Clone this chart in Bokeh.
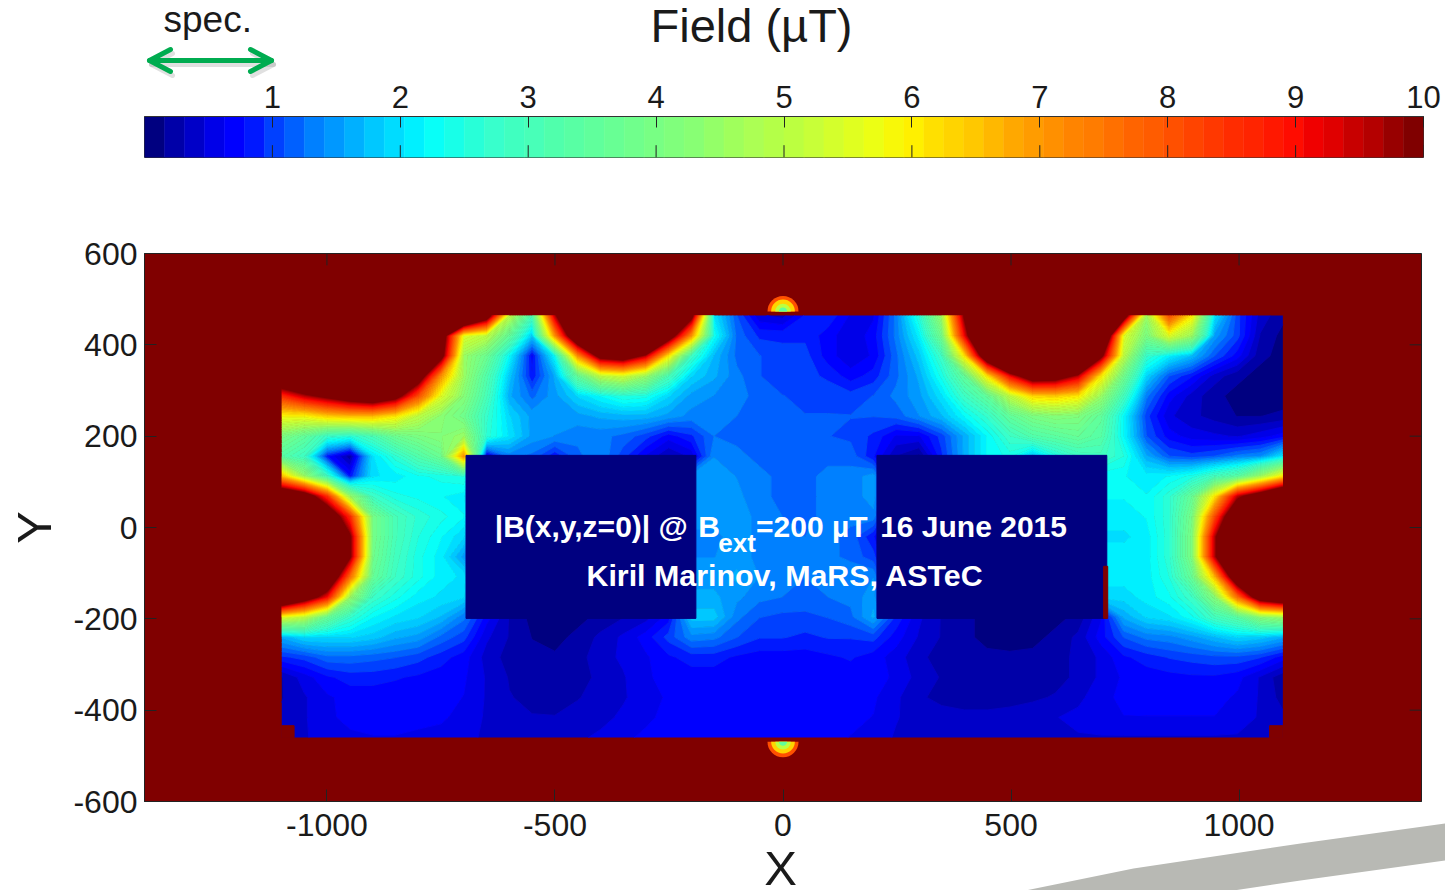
import numpy as np
from bokeh.core.properties import value
from bokeh.embed import file_html
from bokeh.layouts import column
from bokeh.models import FixedTicker
from bokeh.plotting import figure
from bokeh.resources import INLINE

FONT = "Liberation Sans"
INK = "#1a1a1a"

palette = ["#000080","#0000a8","#0000c8","#0000e8","#0000ff","#0018ff","#0040ff","#0060ff",
           "#0080ff","#0098ff","#00b0ff","#00c8ff","#00dcff","#00f0ff","#08fff8","#18ffe8",
           "#28ffd8","#38ffcc","#40ffc0","#48ffb8","#50ffac","#58ffa4","#60ff9c","#68ff94",
           "#70ff8c","#78ff84","#80ff7c","#88ff74","#94ff68","#a0ff5c","#acff54","#b4ff48",
           "#bcff40","#c8ff38","#d4ff2c","#e0ff20","#ecff14","#f8f808","#fff000","#ffe000",
           "#ffd400","#ffc800","#ffb800","#ffa800","#ff9c00","#ff9000","#ff8400","#ff7c00",
           "#ff7000","#ff6400","#ff5c00","#ff5000","#ff4400","#ff3800","#ff2c00","#ff2400",
           "#ff1800","#ff0c00","#f00000","#e00000","#c80000","#b40000","#980000","#800000"]
cbar_ticks = [1, 2, 3, 4, 5, 6, 7, 8, 9, 10]
x_ticks = [-1000, -500, 0, 500, 1000]
x_tick_labels = ["-1000", "-500", "0", "500", "1000"]
y_ticks = [-600, -400, -200, 0, 200, 400, 600]
y_tick_labels = ["-600", "-400", "-200", "0", "200", "400", "600"]

field_x0, field_x1, field_nx = -1099, 1096, 45
field_y_top, field_y_bottom = 464, -460
# |B| in microtesla, row by row from the top edge to the bottom edge
r00 = [12,14,16,16,16,16,16,15,14,11,5,3,9.5,14,16,16,16,14,10.5,2,1.1,.5,.4,.8,.9,.6,.6,1.3,2.5,4.5,10,14,16,16,16,15,13,11,4.5,8,6,2,1,.4,.2]
r01 = [16,16,16,16,16,16,16,11,5.5,5,3.5,1.8,7,12,16,16,16,11,7,2.3,1.2,.9,.9,.9,.7,.5,.7,1.3,2.1,3.8,9,14,16,16,16,16,13,5.5,4,5.5,4.5,1.5,1,.3,.1]
r02 = [16,16,16,16,16,16,12,10.5,4.5,3.7,2.2,.7,2.2,7,10.5,11,9.5,6,2.8,1.7,1.2,1.1,1,1,.7,.5,.65,1.2,1.8,2.8,6,11.5,15,16,16,15,10.3,5,2.7,2.1,1.7,1.1,.7,.2,.1]
r03 = [12,13,14,14,14,14,11,7,4.5,3.2,1.8,.8,1.6,3.5,5,5.3,4.5,3,1.9,1.6,1.3,1.1,1,1,.9,.7,.85,1.2,1.6,2.4,3.5,6,9,11,10.8,9.5,6,3.8,1.9,1.1,.8,.4,.2,.1,.1]
r04 = [8.5,9.5,10.2,11,11.5,10.5,8,5.5,4.2,3,1.6,1.2,1.5,1.9,2.2,2.5,2.4,1.9,1.5,1.4,1.3,1.2,1.1,1.05,1.05,1,1.1,1.3,1.5,2,2.8,3.5,5,6.2,6.3,6,4.5,2.9,1.3,.7,.4,.2,.1,.05,.05]
r05 = [5.8,5.8,6.3,6.5,6.5,6,5,4.3,3.8,2.7,1.9,1.5,1.5,1.5,1.6,1.65,1.65,1.5,1.35,1.3,1.25,1.2,1.15,1.1,1.1,1.1,1.1,1.15,1.4,1.7,2.2,2.7,3.5,4,4.2,4.1,3.5,2.2,1,.5,.35,.25,.15,.15,.2]
r06 = [4,3.5,2.7,2.5,3,3.7,4,4.2,4.5,2.6,2,1.5,1.4,1.3,1.3,1.2,1,.7,.9,1.25,1.2,1.2,1.2,1.15,1.1,1.05,.9,.6,.6,1,1.6,2.2,2.8,3.2,3.4,3.6,3.3,2.2,1.1,.7,.55,.5,.45,.55,.7]
r07 = [3.3,2.8,.8,.2,2,2.6,3.2,3.7,7,.5,1.3,1.2,.8,1.2,1.4,1,.6,.3,.5,1.4,1.3,1.2,1.15,1.15,1.2,1.2,.8,.3,.1,.9,1.6,2.2,2.4,1.7,2.4,2.8,2.9,2.5,1.6,1.1,1,1.1,1.3,1.4,2]
r08 = [6.5,4.5,2.8,.8,2,2.1,2.3,2.4,2.5,.2,.2,.2,.2,.2,.2,.2,.2,.2,1.5,1.5,1.4,1.3,1.2,1.2,1.3,1.3,1.5,.2,.2,.2,.2,.2,.2,.2,.2,.2,2.2,2.2,2.1,2.2,2.4,2.9,3.3,4.5,6]
r09 = [12,11,8.5,4.5,2.8,2.4,2.3,2.2,2.1,.2,.2,.2,.2,.2,.2,.2,.2,.2,1.55,1.55,1.45,1.3,1.2,1.2,1.3,1.3,1.5,.2,.2,.2,.2,.2,.2,.2,.2,.2,2.2,2.2,2.2,2.6,3.6,6,9.5,11,13]
r10 = [15,14,11.5,8.5,3.9,3,2.6,2.4,2.2,.2,.2,.2,.2,.2,.2,.2,.2,.2,1.5,1.5,1.5,1.35,1.25,1.2,1.3,1.3,1.35,.2,.2,.2,.2,.2,.2,.2,.2,.2,2.1,2.1,2.2,2.6,3.9,8,12,15,16]
r11 = [16,16,13,10,3.9,3,2.5,2.2,1.9,.2,.2,.2,.2,.2,.2,.2,.2,.2,1.35,1.35,1.5,1.35,1.3,1.25,1.3,1.2,.8,.2,.2,.2,.2,.2,.2,.2,.2,.2,2,2,2.1,2.6,4,9.5,14,16,16]
r12 = [16,16,13,10,3.8,2.9,2.4,2.1,1.5,.2,.2,.2,.2,.2,.2,.2,.2,.2,1.4,1.4,1.5,1.35,1.3,1.25,1.3,1.2,1,.2,.2,.2,.2,.2,.2,.2,.2,.2,2.1,2.1,2.1,2.6,4,9.5,14,16,16]
r13 = [16,15,12,7.5,3.6,2.8,2.4,2.1,2,.2,.2,.2,.2,.2,.2,.2,.2,.2,1.5,1.5,1.6,1.4,1.3,1.25,1.35,1.4,1.4,.2,.2,.2,.2,.2,.2,.2,.2,.2,2.1,2.1,2.1,2.5,3.6,6.5,11.5,15,16]
r14 = [13,11,9,4.5,2.8,2.4,2.1,2,1.9,.2,.2,.2,.2,.2,.2,.2,.2,.2,1.6,1.6,1.45,1.3,1.25,1.2,1.25,1.3,1.5,.2,.2,.2,.2,.2,.2,.2,.2,.2,1.95,1.95,2.1,2.3,2.8,4.2,7.5,11,12]
r15 = [5.5,5,3.6,2.7,2.2,2,1.9,1.7,1.3,.7,.3,.1,.1,.1,.2,.3,.4,.7,1.8,1.8,1.3,1.1,1.05,1.05,1.1,1.2,1.6,.9,.5,.3,.2,.1,.05,.05,.1,.2,.6,1.6,1.9,2,2.3,2.9,3.3,4.2,4.5]
r16 = [1.6,1.9,1.9,1.9,1.8,1.6,1.5,1.2,1,.5,.3,.15,.1,.2,.35,.5,.7,1,1.35,1.3,1.1,.95,.95,.9,.95,.95,1,.7,.45,.3,.2,.1,.05,.1,.2,.35,.7,1.1,1.3,1.35,1.5,1.7,1.9,1.8,1.6]
r17 = [.9,1,1.2,1.2,1.15,1.1,1,.85,.7,.4,.25,.2,.18,.25,.4,.5,.6,.75,.85,.85,.75,.7,.7,.7,.75,.8,.7,.55,.35,.25,.2,.2,.2,.2,.25,.35,.5,.75,.85,.95,1,1.05,1.05,.95,.7]
r18 = [.3,.55,.75,.85,.85,.8,.75,.7,.65,.45,.3,.25,.2,.25,.35,.45,.6,.68,.7,.7,.7,.7,.7,.7,.7,.7,.68,.6,.4,.3,.25,.2,.2,.2,.25,.35,.5,.65,.7,.72,.75,.75,.68,.45,.2]
r19 = [.3,.45,.6,.68,.68,.68,.68,.68,.62,.45,.32,.28,.25,.3,.38,.45,.55,.65,.68,.68,.68,.68,.68,.68,.68,.68,.65,.5,.33,.28,.25,.25,.25,.28,.33,.42,.58,.66,.68,.68,.68,.68,.6,.45,.25]
r20 = [.35,.45,.6,.66,.66,.66,.66,.66,.55,.45,.36,.32,.32,.38,.42,.5,.6,.66,.66,.66,.66,.66,.66,.66,.66,.66,.62,.48,.4,.36,.35,.35,.38,.42,.46,.52,.6,.62,.62,.62,.62,.62,.55,.45,.35]
r21 = [.4,.45,.55,.6,.62,.62,.6,.55,.5,.45,.4,.38,.4,.44,.5,.6,.65,.66,.66,.66,.66,.66,.66,.66,.66,.62,.55,.45,.42,.4,.4,.4,.42,.45,.45,.45,.45,.45,.45,.45,.45,.45,.45,.42,.35]
field_rows = [r00,r01,r02,r03,r04,r05,r06,r07,r08,r09,r10,r11,r12,r13,r14,r15,r16,r17,r18,r19,r20,r21]

# magnet blocks and other sharp-edged patches of the map
block_left = [-695, 206]
block_right = [-191, 710]
block_top = [158, 158]
block_bottom = [-199, -199]
hot_left = [703, -1099, 1067]
hot_right = [712, -1072, 1096]
hot_top = [-85, -434, -434]
hot_bottom = [-199, -460, -460]
# small bumps above and below the map
bump_x = [0, 0]
bump_y = [473, -469]
bump_start = [0, np.pi]
bump_end = [np.pi, 2 * np.pi]
bump_radii = [34, 26, 17, 9]
bump_values = [8, 6.3, 5, 3.5]

text_strings = ["|B(x,y,z=0)| @", "B", "=200 \u00b5T", "16 June 2015", "Kiril Marinov, MaRS, ASTeC"]
text_x = [-632, -186, -59, 213, -431]
text_y = [3, 3, 3, 3, -103]
text_sizes = ["30px", "30px", "30px", "30px", "30.4px"]
sub_string = ["ext"]
sub_x = [-142]
sub_y = [-34]

# ---- page-wide backdrop in page pixels: heading texts, arrow, axis names, swoosh
bg = figure(width=1445, height=890, min_border=0, x_range=(0, 1445), y_range=(890, 0),
            output_backend="svg", toolbar_location=None, x_axis_type=None, y_axis_type=None,
            margin=(0, 0, -890, 0), frame_align=False)
bg.grid.visible = False
bg.outline_line_color = None
bg.background_fill_color = None
bg.border_fill_color = None
swoosh_x = [1025, 1133, 1300, 1445, 1445, 1300, 1233]
swoosh_y = [890, 868, 843, 823, 860, 880, 890]
bg.patch(swoosh_x, swoosh_y, fill_color="#b8b9b4", line_color=None)
arrow_x = [[149, 271], [170, 149, 170], [250, 271, 250]]
arrow_y = [[60, 60], [49, 60, 71], [49, 60, 71]]
bg.multi_line([[v + 2 for v in a] for a in arrow_x], [[v + 4 for v in a] for a in arrow_y],
              line_color="#999999", line_alpha=0.3, line_width=5, line_cap="round", line_join="round")
bg.multi_line(arrow_x, arrow_y, line_color="#00ac50", line_width=5, line_cap="round", line_join="round")
bg.text(x=[650, 163, 780], y=[25, 19, 867], text=["Field (\u00b5T)", "spec.", "X"],
        text_font=value(FONT), text_font_size=["47px", "37px", "49px"], text_color=INK,
        text_align=["left", "left", "center"], text_baseline="middle")
bg.text(x=[33], y=[527], text=["Y"], text_font=value(FONT), text_font_size="49px", text_color=INK,
        text_align="center", text_baseline="middle", angle=np.pi / 2)

# ---- colour bar figure
top = figure(width=1445, height=200, frame_width=1279, frame_height=41,
             min_border_left=144, min_border_right=22, min_border_top=116, min_border_bottom=43,
             x_range=(0, 10), y_range=(0, 1), output_backend="svg", toolbar_location=None,
             x_axis_location="above", frame_align=False)
top.grid.visible = False
top.yaxis.visible = False
top.border_fill_color = None
top.background_fill_color = None
edges = np.arange(len(palette) + 1) * 10 / len(palette)
top.quad(left=edges[:-1], right=edges[1:], bottom=0, top=1, fill_color=palette, line_color=palette, line_width=0.5)
top.segment(x0=cbar_ticks, y0=0, x1=cbar_ticks, y1=0.3, line_color="#222222", line_width=1)
ax = top.xaxis[0]
ax.ticker = FixedTicker(ticks=cbar_ticks)
ax.major_label_overrides = {t: str(t) for t in cbar_ticks}
ax.major_label_text_font = FONT
ax.major_label_text_font_size = "31px"
ax.major_label_text_color = INK
ax.major_label_standoff = 9
ax.major_tick_in = 11
ax.major_tick_out = 0
ax.minor_tick_in = ax.minor_tick_out = 0
ax.axis_line_color = "#333333"
ax.major_tick_line_color = "#222222"
top.outline_line_color = "#333333"

# ---- field map
p = figure(width=1445, height=690, frame_width=1277, frame_height=548,
           min_border_left=144, min_border_right=24, min_border_top=53, min_border_bottom=89,
           x_range=(-1400, 1400), y_range=(-600, 600), output_backend="svg", toolbar_location=None,
           frame_align=False)
p.grid.visible = False
p.background_fill_color = "#800000"
p.border_fill_color = None
p.outline_line_color = "#222222"

xs = np.linspace(field_x0, field_x1, field_nx)
ys = np.linspace(field_y_bottom, field_y_top, len(field_rows))
zs = np.array(field_rows, dtype=float)[::-1]
levels = list(np.linspace(0, 10, len(palette) + 1)) + [40]
fills = palette + [palette[-1]]
edge_lines = palette + [palette[-1], palette[-1]]
p.contour(xs, ys, zs, levels, fill_color=fills, line_color=edge_lines, line_width=1)

p.quad(left=block_left, right=block_right, top=block_top, bottom=block_bottom,
       fill_color=palette[0], line_color=palette[0])
p.quad(left=hot_left, right=hot_right, top=hot_top, bottom=hot_bottom,
       fill_color=palette[-1], line_color=palette[-1])
for rad, val in zip(bump_radii, bump_values):
    p.wedge(x=bump_x, y=bump_y, radius=rad, start_angle=bump_start, end_angle=bump_end,
            fill_color=palette[int(val * 6.4)], line_color=None)

p.text(x=text_x, y=text_y, text=text_strings, text_font=value(FONT), text_font_style="bold",
       text_font_size=text_sizes, text_color="#ffffff", text_baseline="alphabetic")
p.text(x=sub_x, y=sub_y, text=sub_string, text_font=value(FONT), text_font_style="bold",
       text_font_size="26px", text_color="#ffffff", text_baseline="alphabetic")
p.segment(x0=x_ticks, y0=600, x1=x_ticks, y1=574, line_color="#222222", line_width=1)
p.segment(x0=1400, y0=y_ticks, x1=1374, y1=y_ticks, line_color="#222222", line_width=1)


def style_ticks(a, ticks, labels):
    a.ticker = FixedTicker(ticks=ticks)
    a.major_label_overrides = dict(zip(ticks, labels))
    a.major_label_text_font = FONT
    a.major_label_text_font_size = "32px"
    a.major_label_text_color = INK
    a.major_tick_in = 12
    a.major_tick_out = 0
    a.minor_tick_in = a.minor_tick_out = 0
    a.axis_line_color = "#222222"
    a.major_tick_line_color = "#222222"


style_ticks(p.xaxis[0], x_ticks, x_tick_labels)
style_ticks(p.yaxis[0], y_ticks, y_tick_labels)
p.xaxis[0].major_label_standoff = 12
p.yaxis[0].major_label_standoff = 7

page = column(bg, top, p, spacing=0)
open("out.html", "w").write(file_html(page, INLINE))
